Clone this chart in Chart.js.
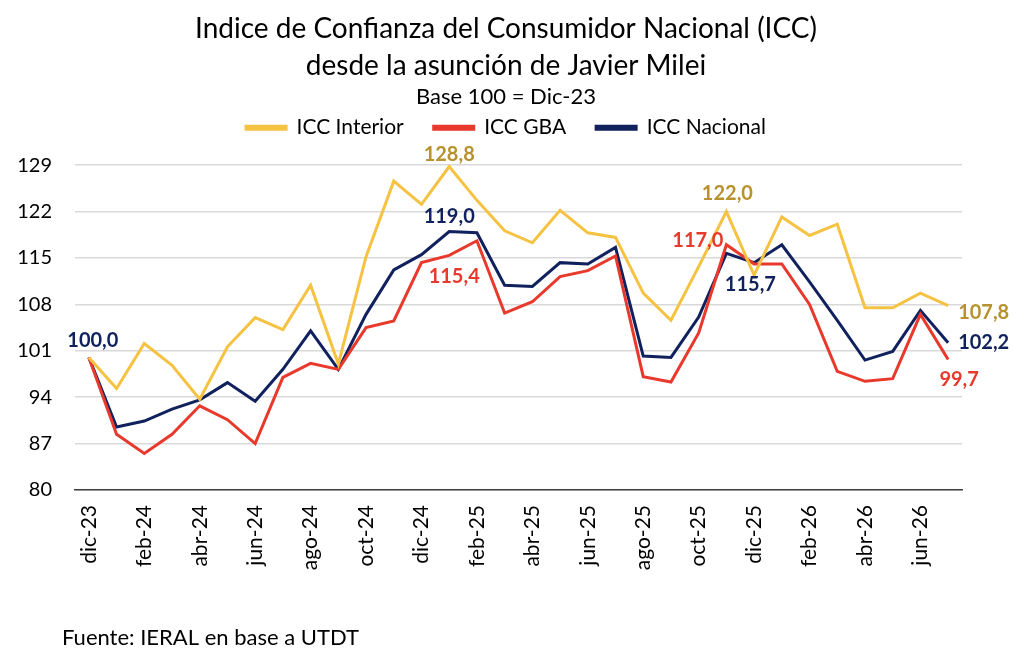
<!DOCTYPE html>
<html>
<head>
<meta charset="utf-8">
<script src="https://cdn.jsdelivr.net/npm/chart.js@4.4.1/dist/chart.umd.min.js"></script>
<style>
  html, body { margin: 0; padding: 0; background: #fff; }
  #wrap { width: 1024px; height: 661px; }
</style>
</head>
<body>
<div id="wrap"><canvas id="icc"></canvas></div>
<script>
// Meses desde dic-23 hasta jul-26
const MONTHS = ['dic-23','ene-24','feb-24','mar-24','abr-24','may-24','jun-24','jul-24','ago-24','sep-24',
  'oct-24','nov-24','dic-24','ene-25','feb-25','mar-25','abr-25','may-25','jun-25','jul-25',
  'ago-25','sep-25','oct-25','nov-25','dic-25','ene-26','feb-26','mar-26','abr-26','may-26','jun-26','jul-26'];

const ICC_INTERIOR = [100, 95.3, 102.1, 98.8, 93.7, 101.6, 106.0, 104.2, 110.9, 99.0,
  115.2, 126.6, 123.1, 128.8, 123.7, 119.1, 117.3, 122.2, 118.8, 118.1,
  109.7, 105.6, 113.7, 122.0, 112.4, 121.2, 118.4, 120.1, 107.5, 107.5, 109.7, 107.8];

const ICC_GBA = [100, 88.4, 85.5, 88.4, 92.7, 90.6, 87.0, 97.0, 99.1, 98.2,
  104.5, 105.5, 114.3, 115.4, 117.6, 106.7, 108.4, 112.2, 113.1, 115.3,
  97.1, 96.3, 103.7, 117.0, 114.1, 114.1, 108.0, 97.9, 96.4, 96.8, 106.5, 99.7];

const ICC_NACIONAL = [100, 89.5, 90.4, 92.2, 93.6, 96.2, 93.4, 98.2, 104.0, 98.2,
  106.5, 113.2, 115.5, 119.0, 118.8, 110.9, 110.7, 114.3, 114.1, 116.6,
  100.2, 100.0, 106.1, 115.7, 114.3, 117.0, 111.4, 105.6, 99.6, 100.9, 107.1, 102.2];

const Y_TICKS = [80, 87, 94, 101, 108, 115, 122, 129];

const FONT = 'Lato, "Open Sans", sans-serif';

// etiquetas de valor: dataset, indice, desplazamiento y alineacion
const valueLabels = {
  id: 'valueLabels',
  afterDatasetsDraw(chart, args, opts) {
    const ctx = chart.ctx;
    ctx.save();
    ctx.font = 'bold 20px ' + FONT;
    ctx.textBaseline = 'middle';
    opts.items.forEach(it => {
      const pt = chart.getDatasetMeta(it.ds).data[it.i];
      const v = chart.data.datasets[it.ds].data[it.i];
      ctx.fillStyle = it.color;
      ctx.textAlign = it.align || 'center';
      ctx.fillText(v.toFixed(1).replace('.', ','), pt.x + it.dx, pt.y + it.dy);
    });
    ctx.restore();
  }
};

// fuente al pie
const footerNote = {
  id: 'footerNote',
  afterDraw(chart) {
    const ctx = chart.ctx;
    ctx.save();
    ctx.font = '22px ' + FONT;
    ctx.fillStyle = '#000';
    ctx.textBaseline = 'middle';
    ctx.textAlign = 'left';
    ctx.fillText('Fuente: IERAL en base a UTDT', 62, 638);
    ctx.restore();
  }
};

// mas espacio bajo la leyenda, y titulo/leyenda un poco a la derecha
const headerTweaks = {
  id: 'headerTweaks',
  beforeInit(chart) {
    const fit = chart.legend.fit;
    chart.legend.fit = function () {
      fit.bind(this)();
      this.height += 17;
    };
  },
  afterLayout(chart) {
    chart.boxes.forEach(b => {
      if (b.position === 'top') {
        b.left += 25;
        b.right += 25;
      }
    });
  }
};

const GOLD = '#B8922F';
const RED = '#E8392C';
const NAVY = '#10215E';

new Chart(document.getElementById('icc'), {
  type: 'line',
  data: {
    labels: MONTHS,
    datasets: [
      { label: 'ICC Interior', data: ICC_INTERIOR, borderColor: '#F5C242', backgroundColor: '#F5C242' },
      { label: 'ICC GBA', data: ICC_GBA, borderColor: '#E8392C', backgroundColor: '#E8392C' },
      { label: 'ICC Nacional', data: ICC_NACIONAL, borderColor: '#10215E', backgroundColor: '#10215E' }
    ]
  },
  plugins: [valueLabels, footerNote, headerTweaks],
  options: {
    responsive: true,
    maintainAspectRatio: false,
    animation: false,
    clip: false,
    elements: {
      line: { borderWidth: 3, tension: 0 },
      point: { radius: 0 }
    },
    layout: { padding: { left: 0, right: 62, bottom: 71, top: 0 } },
    plugins: {
      title: {
        display: true,
        text: ['Indice de Confianza del Consumidor Nacional (ICC)', 'desde la asunción de Javier Milei'],
        font: { family: FONT, size: 28, weight: 'normal', lineHeight: 1.3 },
        color: '#000',
        padding: { top: 11, bottom: 0 }
      },
      subtitle: {
        display: true,
        text: 'Base 100 = Dic-23',
        font: { family: FONT, size: 22, lineHeight: 1.2 },
        color: '#000',
        padding: { top: 0, bottom: -23 }
      },
      legend: {
        position: 'top',
        labels: {
          font: { family: FONT, size: 21 },
          color: '#000',
          boxWidth: 40,
          boxHeight: 3,
          padding: 30
        }
      },
      tooltip: { enabled: false },
      valueLabels: {
        items: [
          { ds: 2, i: 0, dx: 4, dy: -17, color: NAVY },
          { ds: 0, i: 13, dx: 0, dy: -12, color: GOLD },
          { ds: 2, i: 13, dx: 0, dy: -15, color: NAVY },
          { ds: 1, i: 13, dx: 5, dy: 21, color: RED },
          { ds: 0, i: 23, dx: 1, dy: -18, color: GOLD },
          { ds: 1, i: 23, dx: -3, dy: -4, color: RED, align: 'right' },
          { ds: 2, i: 23, dx: 24, dy: 31, color: NAVY },
          { ds: 0, i: 31, dx: 10, dy: 7, color: GOLD, align: 'left' },
          { ds: 2, i: 31, dx: 10, dy: 0, color: NAVY, align: 'left' },
          { ds: 1, i: 31, dx: 11, dy: 20, color: RED }
        ]
      }
    },
    scales: {
      x: {
        offset: true,
        afterFit: axis => { axis.height = 100; },
        grid: { display: false, drawTicks: false, offset: true },
        border: { display: true, color: '#404040', width: 1.5 },
        ticks: {
          autoSkip: false,
          maxRotation: 90,
          minRotation: 90,
          padding: 15,
          color: '#000',
          font: { family: FONT, size: 21 },
          callback: function (value, index) {
            return index % 2 === 0 ? MONTHS[index] : '';
          }
        }
      },
      y: {
        min: 80,
        max: 129,
        afterBuildTicks: axis => { axis.ticks = Y_TICKS.map(v => ({ value: v })); },
        afterFit: axis => { axis.width = 75; },
        grid: { color: '#D9D9D9', lineWidth: 1.5, drawTicks: false },
        border: { display: false },
        ticks: {
          padding: 23,
          color: '#000',
          font: { family: FONT, size: 20 }
        }
      }
    }
  }
});
</script>
</body>
</html>
